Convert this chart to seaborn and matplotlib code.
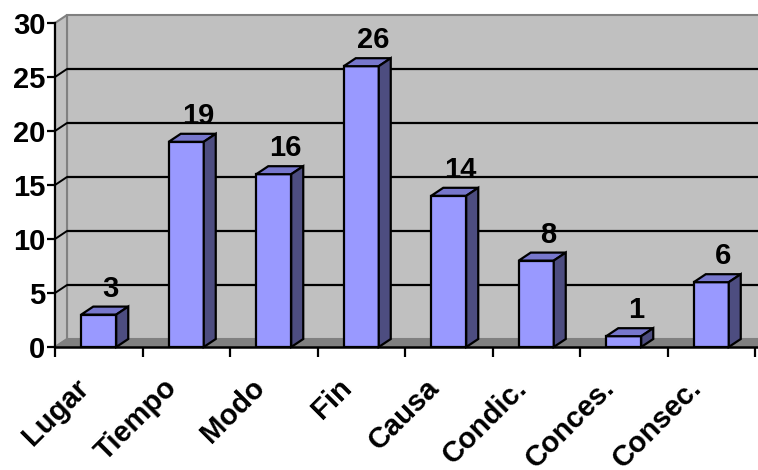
import matplotlib
matplotlib.use("Agg")
import matplotlib.pyplot as plt
import matplotlib.transforms as mtransforms
from matplotlib.patches import Polygon
import seaborn as sns
import pandas as pd

# Data
categories = ["Lugar", "Tiempo", "Modo", "Fin", "Causa", "Condic.", "Conces.", "Consec."]
values = [3, 19, 16, 26, 14, 8, 1, 6]
y_ticks = [0, 5, 10, 15, 20, 25, 30]

sns.set_theme(style="white")
plt.rcParams["font.family"] = ["Liberation Sans", "DejaVu Sans"]

W, H = 758, 470
DX, DY = 12, 8  # depth offset of the 3-D look, in pixels

fig = plt.figure(figsize=(W / 100, H / 100), dpi=100)
ax = fig.add_axes([55 / W, (H - 347) / H, 700 / W, (347 - 23) / H])
ax.set_xlim(-0.5, 7.5)
ax.set_ylim(0, 30)
ax.patch.set_visible(False)

back = ax.transData + mtransforms.ScaledTranslation(DX / 100, DY / 100, fig.dpi_scale_trans)


def fig_pts(points):
    """(x, y, depth) in data units -> figure coordinates."""
    out = []
    for x, y, d in points:
        px, py = ax.transData.transform((x, y))
        px += d * DX
        py += d * DY
        out.append(fig.transFigure.inverted().transform((px, py)))
    return out


def face(points, fc, ec, lw, z):
    ax.add_patch(Polygon(fig_pts(points), closed=True, facecolor=fc, edgecolor=ec,
                         linewidth=lw, transform=fig.transFigure, clip_on=False,
                         zorder=z, joinstyle="miter"))


XR = 8.2  # walls run past the right edge

# front faces of the bars
df = pd.DataFrame({"cat": categories, "val": values})
sns.barplot(data=df, x="cat", y="val", color="#9999FF", saturation=1, width=0.4,
            edgecolor="black", linewidth=1.6, ax=ax, zorder=3)
bars = list(ax.containers[0])
ax.set_xlim(-0.5, 7.5)
ax.set_ylim(0, 30)

# back wall, side wall and floor
face([(-0.5, 0, 1), (XR, 0, 1), (XR, 30, 1), (-0.5, 30, 1)], "#C0C0C0", "#808080", 1.5, 0.5)
face([(-0.5, 0, 0), (-0.5, 30, 0), (-0.5, 30, 1), (-0.5, 0, 1)], "#C0C0C0", "#808080", 1.5, 0.6)
face([(-0.5, 0, 0), (-0.5, 0, 1), (XR, 0, 1), (XR, 0, 0)], "#808080", "#808080", 1.0, 0.7)

# gridlines on the back wall with their connectors on the side wall
for v in y_ticks[1:-1]:
    ax.plot([-0.5, XR], [v, v], transform=back, color="black", lw=1.6,
            clip_on=False, zorder=1, solid_capstyle="butt")
    seg = fig_pts([(-0.5, v, 0), (-0.5, v, 1)])
    ax.plot([seg[0][0], seg[1][0]], [seg[0][1], seg[1][1]], transform=fig.transFigure,
            color="black", lw=1.4, clip_on=False, zorder=1)

# top and side faces, value labels
label_off = ax.transData + mtransforms.ScaledTranslation(DX / 100, (DY + 10) / 100,
                                                         fig.dpi_scale_trans)
for patch, v in zip(bars, values):
    x0 = patch.get_x()
    x1 = x0 + patch.get_width()
    h = patch.get_height()
    face([(x0, h, 0), (x1, h, 0), (x1, h, 1), (x0, h, 1)], "#7777CC", "black", 1.6, 3.1)
    face([(x1, 0, 0), (x1, h, 0), (x1, h, 1), (x1, 0, 1)], "#4D4D80", "black", 1.6, 3.1)
    ax.text((x0 + x1) / 2, h, f"{v:g}", transform=label_off, ha="center", va="baseline",
            fontsize=21, fontweight="bold", color="black", zorder=5, clip_on=False)

# axes lines
for s in ["top", "right"]:
    ax.spines[s].set_visible(False)
ax.spines["left"].set_color("black")
ax.spines["left"].set_linewidth(1.6)
ax.spines["bottom"].set_visible(False)
ax.plot([-0.5, XR], [0, 0], color="black", lw=1.8, clip_on=False, zorder=4,
        solid_capstyle="butt")

ax.set_xlabel("")
ax.set_ylabel("")
ax.set_yticks(y_ticks)
ax.set_yticklabels([str(t) for t in y_ticks], fontsize=21, fontweight="bold", color="black")
ax.tick_params(axis="y", direction="out", length=6, width=1.6, color="black", pad=1, left=True)

ax.set_xticks(range(len(categories)))
ax.set_xticks([k - 0.5 for k in range(len(categories) + 1)], minor=True)
ax.set_xticklabels(categories, rotation=45, ha="right", va="top", fontsize=21,
                   fontweight="bold", color="black")
ax.tick_params(axis="x", which="major", length=0, pad=19)
ax.tick_params(axis="x", which="minor", direction="out", length=7, width=1.6,
               color="black", bottom=True)
shift = mtransforms.ScaledTranslation(-4 / 100, 0, fig.dpi_scale_trans)
for lab in ax.get_xticklabels():
    lab.set_transform(lab.get_transform() + shift)

fig.savefig("out.png", dpi=100)
